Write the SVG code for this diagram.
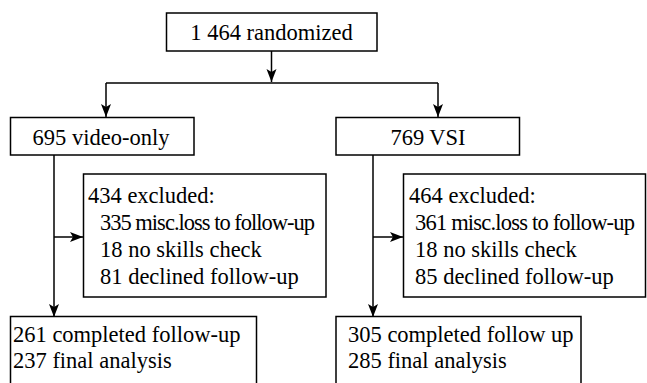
<svg xmlns="http://www.w3.org/2000/svg" width="647" height="383" viewBox="0 0 647 383">
<style>
.box{fill:#fff;stroke:#000;stroke-width:1.5}
.t{font-family:'Liberation Serif','Times New Roman','DejaVu Serif',serif;font-size:22.5px;fill:#000}
.c{text-anchor:middle}
.ln{fill:none;stroke:#000;stroke-width:1.5}
</style>
<defs>
<marker id="ah" markerUnits="userSpaceOnUse" markerWidth="16" markerHeight="12" viewBox="-14 -6 16 12" refX="0" refY="0" orient="auto">
<path d="M0,0 L-13,-5 L-10,0 L-13,5 Z" fill="#000"/>
</marker>
</defs>
<g id="connectors">
<line class="ln" x1="271.5" y1="51" x2="271.5" y2="82" marker-end="url(#ah)"/>
<line class="ln" x1="106" y1="83" x2="438" y2="83"/>
<line class="ln" x1="106" y1="83" x2="106" y2="117" marker-end="url(#ah)"/>
<line class="ln" x1="438" y1="83" x2="438" y2="117" marker-end="url(#ah)"/>
<line class="ln" x1="54" y1="155" x2="54" y2="317" marker-end="url(#ah)"/>
<line class="ln" x1="54" y1="237" x2="83" y2="237" marker-end="url(#ah)"/>
<line class="ln" x1="373" y1="155" x2="373" y2="317" marker-end="url(#ah)"/>
<line class="ln" x1="373" y1="237" x2="403" y2="237" marker-end="url(#ah)"/>
</g>
<g font-family="Liberation Serif, Times New Roman, serif">
<g id="randomized">
<rect class="box" x="166.5" y="13" width="210.5" height="38"/>
<text class="t c" x="271.5" y="40">1 464 randomized</text>
</g>
<g id="video-only">
<rect class="box" x="10.5" y="117.5" width="183.5" height="37.5"/>
<text class="t c" x="101" y="145">695 video-only</text>
</g>
<g id="vsi">
<rect class="box" x="336" y="117.5" width="183.5" height="37.5"/>
<text class="t c" x="428" y="145">769 VSI</text>
</g>
<g id="excluded-left">
<rect class="box" x="83.5" y="174" width="242.5" height="123"/>
<text class="t" x="88" y="203">434 excluded:</text>
<text class="t" x="100" y="230" textLength="215">335 misc.loss to follow-up</text>
<text class="t" x="100" y="257">18 no skills check</text>
<text class="t" x="100" y="283.5">81 declined follow-up</text>
</g>
<g id="excluded-right">
<rect class="box" x="403.5" y="174" width="242" height="123"/>
<text class="t" x="409" y="203">464 excluded:</text>
<text class="t" x="415" y="230" textLength="220">361 misc.loss to follow-up</text>
<text class="t" x="415" y="257">18 no skills check</text>
<text class="t" x="415" y="283.5">85 declined follow-up</text>
</g>
<g id="completed-left">
<rect class="box" x="10.5" y="316.5" width="246" height="80"/>
<text class="t" x="13" y="342">261 completed follow-up</text>
<text class="t" x="13" y="368">237 final analysis</text>
</g>
<g id="completed-right">
<rect class="box" x="336" y="316.5" width="245" height="80"/>
<text class="t" x="348" y="342">305 completed follow up</text>
<text class="t" x="348" y="368">285 final analysis</text>
</g>
</g>
</svg>
